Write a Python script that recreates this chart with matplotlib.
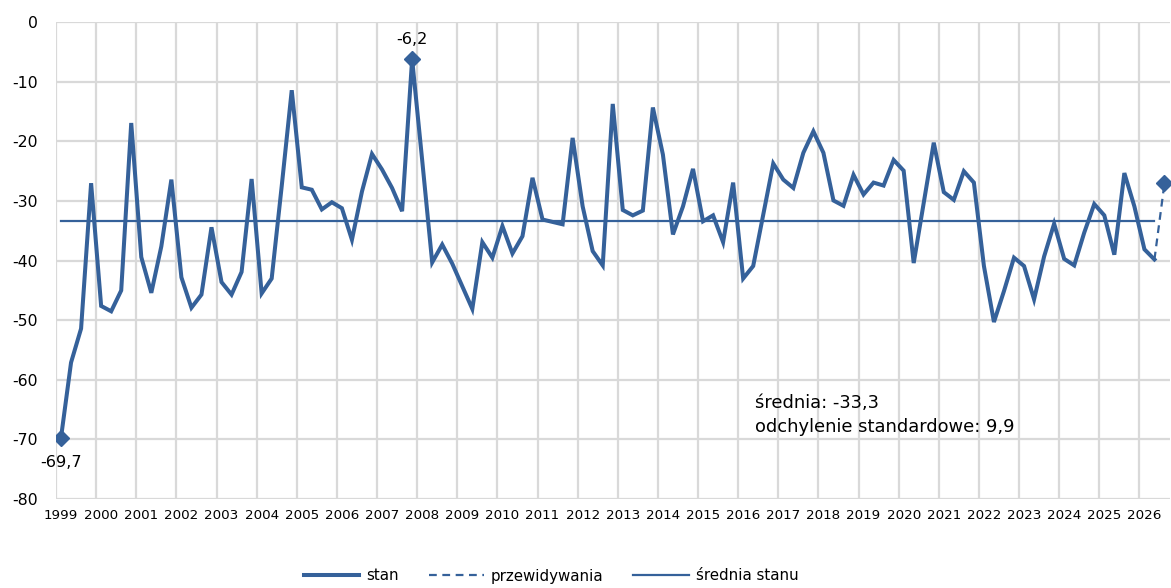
import matplotlib
matplotlib.use("Agg")
import matplotlib.pyplot as plt
from matplotlib.lines import Line2D
import numpy as np

plt.rcParams['font.family'] = ['DejaVu Sans']

# Quarterly data 1999Q1 .. 2026Q2 (actual), forecast 2026Q3
years = list(range(1999, 2027))
stan = [
    -69.7, -57.1, -51.4, -27.0,   # 1999
    -47.6, -48.5, -45.0, -16.9,   # 2000
    -39.4, -45.4, -37.6, -26.4,   # 2001
    -42.8, -47.9, -45.7, -34.4,   # 2002
    -43.6, -45.7, -41.9, -26.3,   # 2003
    -45.5, -43.0, -27.5, -11.4,   # 2004
    -27.7, -28.1, -31.4, -30.2,   # 2005
    -31.2, -36.5, -28.4, -22.1,   # 2006
    -24.7, -27.8, -31.7, -6.2,    # 2007
    -23.1, -40.3, -37.3, -40.5,   # 2008
    -44.3, -48.1, -36.9, -39.5,   # 2009
    -34.2, -38.8, -35.9, -26.1,   # 2010
    -33.1, -33.5, -33.9, -19.4,   # 2011
    -30.9, -38.4, -40.8, -13.7,   # 2012
    -31.5, -32.4, -31.6, -14.3,   # 2013
    -22.2, -35.6, -30.9, -24.6,   # 2014
    -33.4, -32.4, -36.9, -26.9,   # 2015
    -43.0, -40.9, -32.3, -23.7,   # 2016
    -26.4, -27.8, -21.9, -18.3,   # 2017
    -21.9, -29.9, -30.8, -25.6,   # 2018
    -28.9, -26.9, -27.4, -23.1,   # 2019
    -24.9, -40.4, -30.3, -20.2,   # 2020
    -28.5, -29.8, -25.0, -26.9,   # 2021
    -40.9, -50.3, -45.1, -39.5,   # 2022
    -40.9, -46.5, -39.3, -33.8,   # 2023
    -39.7, -40.8, -35.3, -30.5,   # 2024
    -32.4, -39.0, -25.3, -30.9,   # 2025
    -38.1, -39.8,                 # 2026
]
forecast = [-27.0]
mean_value = -33.3
std_value = 9.9
label_min = "-69,7"
label_max = "-6,2"

color = "#35619A"
grid_c = "#D9D9D9"

n_act = len(stan)
x_act = np.arange(n_act)
n_tot = n_act + len(forecast)

fig = plt.figure(figsize=(11.71, 5.88), dpi=100)
ax = fig.add_axes([56/1171, 1-499/588, (1169.5-56)/1171, (499-22.3)/588])

ax.set_xlim(-0.5, n_tot - 0.5)
ax.set_ylim(-80, 0)

# grid
for yv in range(-80, 1, 10):
    ax.axhline(yv, color=grid_c, lw=1.6, zorder=0)
for k in range(0, n_tot + 1, 4):
    ax.axvline(k - 0.5, color=grid_c, lw=1.6, zorder=0)
for s in ax.spines.values():
    s.set_visible(False)

# mean line
ax.plot([0, n_act - 1], [mean_value, mean_value], color=color, lw=1.6, zorder=2)
# forecast
ax.plot([n_act - 1, n_act], [stan[-1], forecast[0]], color=color, lw=1.6,
        ls=(0, (3.5, 2.5)), zorder=2)
# main
ax.plot(x_act, stan, color=color, lw=2.9, solid_joinstyle='miter', zorder=3)

imin = int(np.argmin(stan)); imax = int(np.argmax(stan))
ax.plot([imin, imax], [stan[imin], stan[imax]], ls='none', marker='D',
        ms=8.5, color=color, zorder=4)
ax.plot([n_act], forecast, ls='none', marker='D', ms=8.5, color=color, zorder=4)

ax.annotate(label_min, (imin, stan[imin]), xytext=(0, -18), textcoords='offset points',
            ha='center', va='center', fontsize=11.6, color='black')
ax.annotate(label_max, (imax, stan[imax]), xytext=(0, 14), textcoords='offset points',
            ha='center', va='center', fontsize=11.6, color='black')

fig.text(755/1171, 1-415/588,
         f"średnia: {mean_value:.1f}\nodchylenie standardowe: {std_value:.1f}".replace('.', ','),
         fontsize=12.9, va='center', ha='left', linespacing=1.36)

ax.set_yticks(range(-80, 1, 10))
ax.set_yticklabels([str(v) for v in range(-80, 1, 10)], fontsize=11.3)
ax.set_xticks(range(0, n_tot, 4))
ax.set_xticklabels([str(y) for y in years], fontsize=9.7)
ax.tick_params(axis='both', length=0)
ax.tick_params(axis='y', pad=13)
ax.tick_params(axis='x', pad=7)

handles = [Line2D([], [], color=color, lw=2.9),
           Line2D([], [], color=color, lw=1.6, ls=(0, (3.5, 2.5))),
           Line2D([], [], color=color, lw=1.6)]
fig.legend(handles, ["stan", "przewidywania", "średnia stanu"],
           loc='center', bbox_to_anchor=(551/1171, 1-576/588), ncol=3,
           frameon=False, fontsize=10.8, handlelength=3.7, handletextpad=0.45,
           columnspacing=2.0)

fig.savefig("out.png", dpi=100)
